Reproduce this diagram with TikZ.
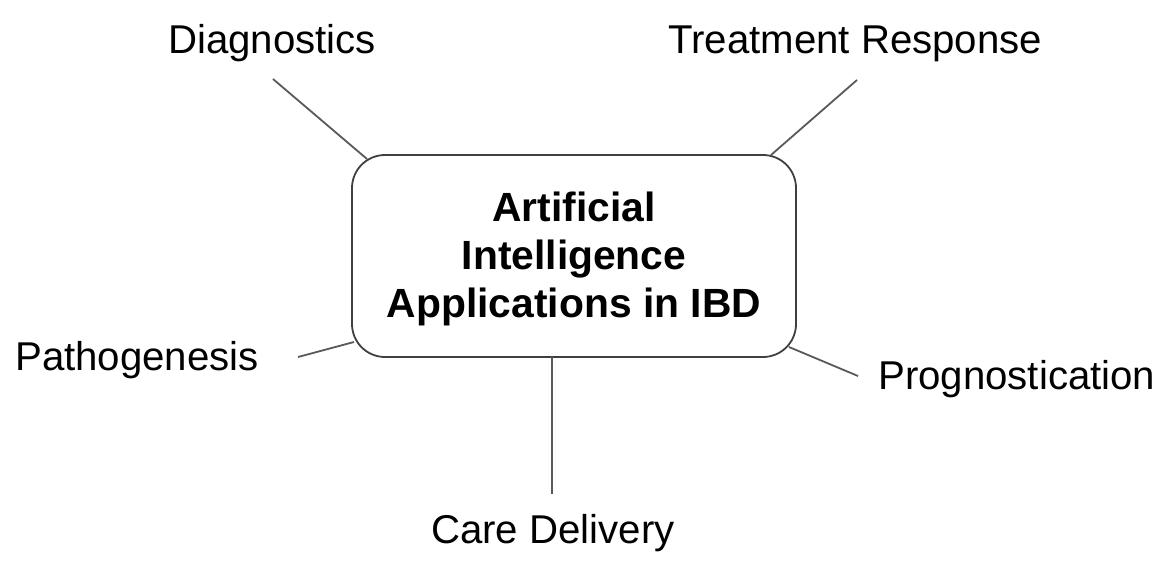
\documentclass[tikz,border=0pt]{standalone}
\usepackage{fontspec}
\setmainfont{Liberation Sans}
\begin{document}
\begin{tikzpicture}[x=1pt,y=-1pt,
  lbl/.style={anchor=base west,inner sep=0pt,font=\fontsize{40.2}{46}\selectfont},
  conn/.style={draw=black!65,line width=1.8pt},
  hub/.style={draw=black!75,line width=1.8pt,rounded corners=33pt,minimum width=444pt,minimum height=202pt,inner sep=0pt}]
\useasboundingbox (0,0) rectangle (1160,563);
\node[hub] (box) at (574,256) {};
\node[align=center,inner sep=0pt,font=\bfseries\fontsize{40.8}{48}\selectfont] (title) at (574,259) {Artificial\\Intelligence\\Applications in IBD};
\node[lbl] (diag) at (168,53) {Diagnostics};
\node[lbl] (treat) at (668,53) {Treatment Response};
\node[lbl] (path) at (15,370) {Pathogenesis};
\node[lbl] (prog) at (878,389) {Prognostication};
\node[lbl] (care) at (431,543) {Care Delivery};
\coordinate (d1) at (273,79); \coordinate (d2) at (367,159);
\coordinate (t1) at (857,80); \coordinate (t2) at (771,155);
\coordinate (p1) at (298,357); \coordinate (p2) at (354,342);
\coordinate (g1) at (789,347); \coordinate (g2) at (858,376);
\coordinate (c1) at (552,357); \coordinate (c2) at (552,494);
\draw[conn] (d1) -- (d2);
\draw[conn] (t1) -- (t2);
\draw[conn] (p1) -- (p2);
\draw[conn] (g1) -- (g2);
\draw[conn] (c1) -- (c2);
\end{tikzpicture}
\end{document}
